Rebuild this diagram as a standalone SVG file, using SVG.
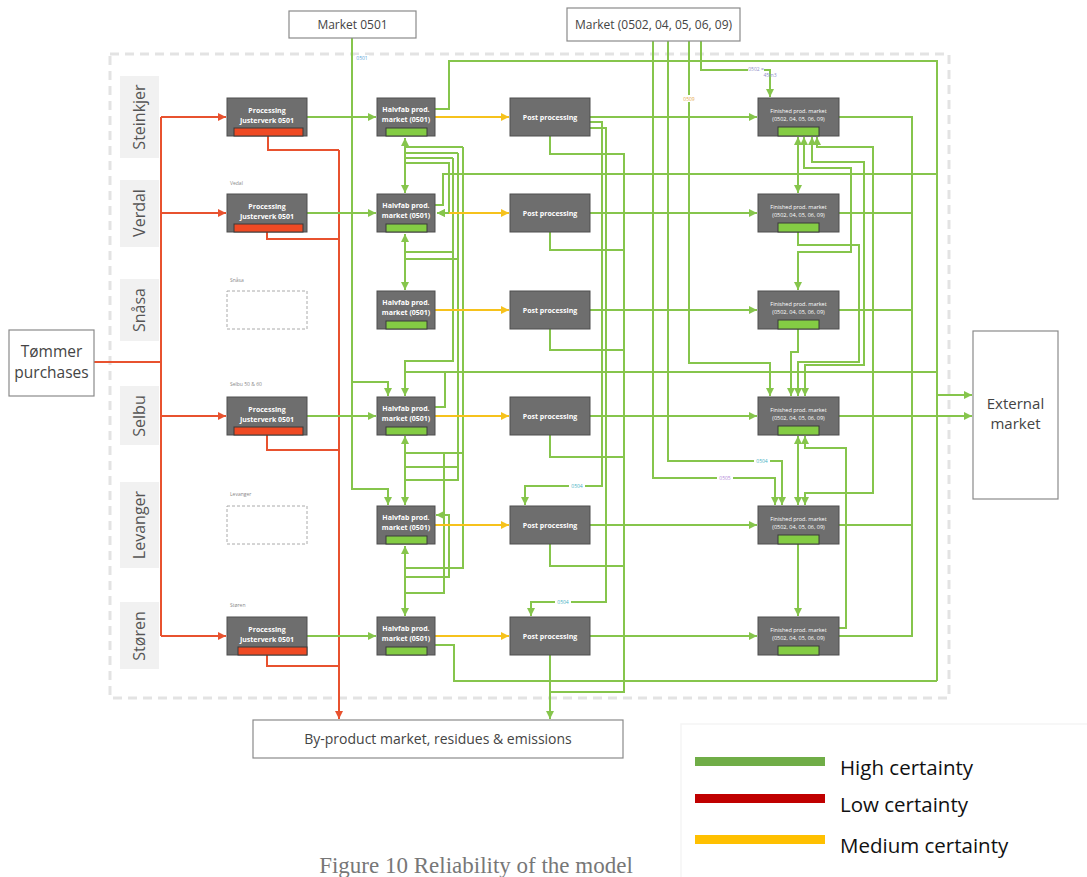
<svg xmlns="http://www.w3.org/2000/svg" width="1087" height="877" viewBox="0 0 1087 877">
<style>
  text{font-family:"Open Sans","DejaVu Sans",sans-serif}
  .frame{fill:none;stroke:#e3e3e3;stroke-width:3;stroke-dasharray:9 6}
  .lane{fill:#f1f1f1}
  .lane-t{font-size:16px;fill:#555;text-anchor:middle}
  .box{fill:#6e6e6e;stroke:#4e4e4e;stroke-width:1}
  .bt{fill:#fff;font-size:7px;font-weight:700;text-anchor:middle}
  .ft{fill:#fff;font-size:5.5px;text-anchor:middle}
  .rbar{fill:#ef4a24;stroke:#3a3a3a;stroke-width:1}
  .gbar{fill:#84cc44;stroke:#3a3a3a;stroke-width:1}
  .ph{fill:none;stroke:#aaa;stroke-width:1;stroke-dasharray:3 2}
  .site{font-size:5px;fill:#888}
  .ext{fill:#fff;stroke:#8a8a8a;stroke-width:1.2}
  .et{fill:#444;text-anchor:middle}
  .g{fill:none;stroke:#86c54c;stroke-width:2}
  .r{fill:none;stroke:#e8522f;stroke-width:2}
  .y{fill:none;stroke:#f6c21c;stroke-width:2}
  .ge{marker-end:url(#ag)}
  .gs{marker-start:url(#ag)}
  .re{marker-end:url(#ar)}
  .ye{marker-end:url(#ay)}
  .lbl{font-size:5px;text-anchor:middle}
  .lb{fill:#fff}
  .leg{font-size:20.5px;fill:#111}
</style>
<defs>
  <marker id="ag" viewBox="0 0 8 8" refX="8" refY="4" markerWidth="8" markerHeight="8" markerUnits="userSpaceOnUse" orient="auto-start-reverse">
    <path d="M0,0 L8,4 L0,8 z" fill="#86c54c"/>
  </marker>
  <marker id="ar" viewBox="0 0 8 8" refX="8" refY="4" markerWidth="8" markerHeight="8" markerUnits="userSpaceOnUse" orient="auto-start-reverse">
    <path d="M0,0 L8,4 L0,8 z" fill="#e8522f"/>
  </marker>
  <marker id="ay" viewBox="0 0 8 8" refX="8" refY="4" markerWidth="8" markerHeight="8" markerUnits="userSpaceOnUse" orient="auto-start-reverse">
    <path d="M0,0 L8,4 L0,8 z" fill="#f6c21c"/>
  </marker>
</defs>

<rect width="1087" height="877" fill="#fff"/>

<!-- model boundary -->
<rect class="frame" x="110" y="54" width="839" height="644"/>

<!-- site lanes -->
<g id="lanes">
  <rect class="lane" x="120" y="76" width="39" height="82"/>
  <text class="lane-t" transform="translate(145,117) rotate(-90)">Steinkjer</text>
  <rect class="lane" x="120" y="180" width="39" height="67"/>
  <text class="lane-t" transform="translate(145,213) rotate(-90)">Verdal</text>
  <rect class="lane" x="120" y="279" width="39" height="62"/>
  <text class="lane-t" transform="translate(145,310) rotate(-90)">Snåsa</text>
  <rect class="lane" x="120" y="386" width="39" height="59"/>
  <text class="lane-t" transform="translate(145,416) rotate(-90)">Selbu</text>
  <rect class="lane" x="120" y="482" width="39" height="86"/>
  <text class="lane-t" transform="translate(145,525) rotate(-90)">Levanger</text>
  <rect class="lane" x="120" y="602" width="39" height="67"/>
  <text class="lane-t" transform="translate(145,636) rotate(-90)">Støren</text>
</g>

<!-- connectors -->
<g id="connectors">
  <!-- timber purchases to sawmills -->
  <path class="r" d="M94,362H161M161,117V636"/>
  <path class="r re" d="M161,117H226"/>
  <path class="r re" d="M161,213H226"/>
  <path class="r re" d="M161,416H226"/>
  <path class="r re" d="M161,636H226"/>
  <!-- sawmill residues -->
  <path class="r" d="M268,136V150H339M267,232V239H339M267,435V450H339M267,655V666H339"/>
  <path class="r re" d="M339,150V719"/>

  <!-- sawmill to halvfab -->
  <path class="g ge" d="M307,117H376"/>
  <path class="g ge" d="M307,213H376"/>
  <path class="g ge" d="M307,416H376"/>
  <path class="g ge" d="M307,636H376"/>

  <!-- market 0501 -->
  <path class="g ge" d="M352,38V489H388V505"/>
  <path class="g ge" d="M352,382H388V396"/>

  <!-- halvfab to external collector -->
  <path class="g" d="M435,109H449V61H937V681"/>
  <path class="g" d="M435,205H443V174H937"/>
  <path class="g" d="M405,372H937M435,407H445V372"/>
  <path class="g" d="M435,645H454V681H937"/>
  <path class="g ge" d="M937,395H972"/>

  <!-- halvfab exchange -->
  <path class="g gs ge" d="M405,138V193"/>
  <path class="g gs ge" d="M405,234V290"/>
  <path class="g gs ge" d="M405,436V505"/>
  <path class="g gs ge" d="M405,546V616"/>
  <path class="g ge" d="M453,158V361H405V396"/>
  <path class="g" d="M463,147H405M458,153H405M453,158H405"/>
  <path class="g" d="M463,147V568H405"/>
  <path class="g" d="M458,153V480H405"/>
  <path class="g ge" d="M405,163H449V213H437"/>
  <path class="g" d="M405,252H453M405,259H458"/>
  <path class="g" d="M405,453H463M405,467H458"/>
  <path class="g" d="M405,593H444V453"/>
  <path class="g ge" d="M405,577H449V515H436"/>

  <!-- halvfab to post processing -->
  <path class="y ye" d="M435,117H509"/>
  <path class="g ge" d="M449,213H437"/>
  <path class="y ye" d="M449,213H509"/>
  <path class="y ye" d="M435,310H509"/>
  <path class="y ye" d="M435,416H509"/>
  <path class="y ye" d="M435,525H509"/>
  <path class="y ye" d="M435,636H509"/>

  <!-- post processing residues -->
  <path class="g" d="M550,136V154H624V692H550M550,232V250H624M550,329V350H624M550,435V457H624M550,544V566H624"/>
  <path class="g ge" d="M550,655V719"/>
  <path class="g ge" d="M590,122H602V486H525V505"/>
  <path class="g ge" d="M590,128H606V602H531V616"/>

  <!-- post processing to finished -->
  <path class="g ge" d="M590,117H757"/>
  <path class="g ge" d="M590,213H757"/>
  <path class="g ge" d="M590,310H757"/>
  <path class="g ge" d="M590,416H757"/>
  <path class="g ge" d="M590,525H757"/>
  <path class="g ge" d="M590,636H757"/>

  <!-- finished market deliveries -->
  <path class="g ge" d="M701,41V70H770V97"/>
  <path class="g ge" d="M689,41V363H770V396"/>
  <path class="g ge" d="M668,41V461H782V505"/>
  <path class="g ge" d="M653,41V478H775V505"/>

  <!-- finished exchange -->
  <path class="g gs ge" d="M798,137V193"/>
  <path class="g gs ge" d="M804,137V168H851V252H798V290"/>
  <path class="g gs ge" d="M812,137V162H864V365H805V396"/>
  <path class="g gs ge" d="M817,137V147H873V493H805V505"/>
  <path class="g ge" d="M798,232V245H859V362H798V396"/>
  <path class="g ge" d="M798,329V352H791V396"/>
  <path class="g gs ge" d="M798,436V505"/>
  <path class="g ge" d="M839,628H846V448H805V436"/>
  <path class="g ge" d="M798,544V616"/>

  <!-- finished to external -->
  <path class="g" d="M839,117H912V636H839M839,213H912M839,310H912M839,525H912"/>
  <path class="g ge" d="M839,416H972"/>

  <!-- flow labels -->
  <rect class="lb" x="355" y="55" width="14" height="6"/>
  <text class="lbl" x="362" y="60" fill="#5aa6d8">0501</text>
  <rect class="lb" x="748" y="65" width="16" height="7"/>
  <text class="lbl" x="756" y="71" fill="#8e8ec8">0502 =</text>
  <text class="lbl" x="770" y="77" fill="#8e8ec8">45m3</text>
  <rect class="lb" x="682" y="95" width="14" height="7"/>
  <text class="lbl" x="689" y="101" fill="#e6a94a">0509</text>
  <rect class="lb" x="754" y="458" width="16" height="7"/>
  <text class="lbl" x="762" y="463" fill="#46b3c4">0504</text>
  <rect class="lb" x="717" y="475" width="16" height="7"/>
  <text class="lbl" x="725" y="480" fill="#b48ad8">0505</text>
  <rect class="lb" x="569" y="483" width="16" height="7"/>
  <text class="lbl" x="577" y="488" fill="#46b3c4">0504</text>
  <rect class="lb" x="555" y="599" width="16" height="7"/>
  <text class="lbl" x="563" y="604" fill="#46b3c4">0504</text>
</g>

<!-- external boxes -->
<g id="tommer">
  <rect class="ext" x="9" y="330" width="85" height="66"/>
  <text class="et" x="51.5" y="357" font-size="15.5">Tømmer</text>
  <text class="et" x="51.5" y="378" font-size="15.5">purchases</text>
</g>
<g id="market-0501">
  <rect class="ext" x="289" y="11" width="127" height="27"/>
  <text class="et" x="352.5" y="29" font-size="12">Market 0501</text>
</g>
<g id="market-0502">
  <rect class="ext" x="567" y="8" width="173" height="33"/>
  <text class="et" x="653.5" y="29" font-size="12">Market (0502, 04, 05, 06, 09)</text>
</g>
<g id="external-market">
  <rect class="ext" x="973" y="331" width="85" height="168"/>
  <text class="et" x="1015.5" y="409" font-size="15">External</text>
  <text class="et" x="1015.5" y="429" font-size="15">market</text>
</g>
<g id="byproduct">
  <rect class="ext" x="253" y="720" width="370" height="38"/>
  <text class="et" x="438" y="744" font-size="14">By-product market, residues &amp; emissions</text>
</g>

<!-- sawmills -->
<g id="proc-steinkjer">
  <rect class="box" x="227" y="98" width="80" height="38"/>
  <rect class="rbar" x="234" y="128" width="69" height="8"/>
  <text class="bt" x="267" y="113">Processing</text>
  <text class="bt" x="267" y="123">Justerverk 0501</text>
</g>
<g id="proc-verdal">
  <text class="site" x="230" y="185">Vedal</text>
  <rect class="box" x="227" y="194" width="80" height="38"/>
  <rect class="rbar" x="234" y="224" width="69" height="8"/>
  <text class="bt" x="267" y="209">Processing</text>
  <text class="bt" x="267" y="219">Justerverk 0501</text>
</g>
<g id="proc-snasa">
  <text class="site" x="230" y="282">Snåsa</text>
  <rect class="ph" x="227" y="291" width="80" height="38"/>
</g>
<g id="proc-selbu">
  <text class="site" x="230" y="386">Selbu 50 &amp; 60</text>
  <rect class="box" x="227" y="397" width="80" height="38"/>
  <rect class="rbar" x="234" y="427" width="69" height="8"/>
  <text class="bt" x="267" y="412">Processing</text>
  <text class="bt" x="267" y="422">Justerverk 0501</text>
</g>
<g id="proc-levanger">
  <text class="site" x="230" y="496">Levanger</text>
  <rect class="ph" x="227" y="506" width="80" height="38"/>
</g>
<g id="proc-storen">
  <text class="site" x="230" y="607">Støren</text>
  <rect class="box" x="227" y="617" width="80" height="38"/>
  <rect class="rbar" x="238" y="647" width="69" height="8"/>
  <text class="bt" x="267" y="632">Processing</text>
  <text class="bt" x="267" y="642">Justerverk 0501</text>
</g>

<!-- halvfab markets -->
<g id="hf-steinkjer"><rect class="box" x="377" y="98" width="58" height="38"/><rect class="gbar" x="386" y="128" width="41" height="8"/><text class="bt" x="406" y="112">Halvfab prod.</text><text class="bt" x="406" y="122">market (0501)</text></g>
<g id="hf-verdal"><rect class="box" x="377" y="194" width="58" height="38"/><rect class="gbar" x="386" y="224" width="41" height="8"/><text class="bt" x="406" y="208">Halvfab prod.</text><text class="bt" x="406" y="218">market (0501)</text></g>
<g id="hf-snasa"><rect class="box" x="377" y="291" width="58" height="38"/><rect class="gbar" x="386" y="321" width="41" height="8"/><text class="bt" x="406" y="305">Halvfab prod.</text><text class="bt" x="406" y="315">market (0501)</text></g>
<g id="hf-selbu"><rect class="box" x="377" y="397" width="58" height="38"/><rect class="gbar" x="386" y="427" width="41" height="8"/><text class="bt" x="406" y="411">Halvfab prod.</text><text class="bt" x="406" y="421">market (0501)</text></g>
<g id="hf-levanger"><rect class="box" x="377" y="506" width="58" height="38"/><rect class="gbar" x="386" y="536" width="41" height="8"/><text class="bt" x="406" y="520">Halvfab prod.</text><text class="bt" x="406" y="530">market (0501)</text></g>
<g id="hf-storen"><rect class="box" x="377" y="617" width="58" height="38"/><rect class="gbar" x="386" y="647" width="41" height="8"/><text class="bt" x="406" y="631">Halvfab prod.</text><text class="bt" x="406" y="641">market (0501)</text></g>

<!-- post processing -->
<g id="pp-steinkjer"><rect class="box" x="510" y="98" width="80" height="38"/><text class="bt" x="550" y="119.5">Post processing</text></g>
<g id="pp-verdal"><rect class="box" x="510" y="194" width="80" height="38"/><text class="bt" x="550" y="215.5">Post processing</text></g>
<g id="pp-snasa"><rect class="box" x="510" y="291" width="80" height="38"/><text class="bt" x="550" y="312.5">Post processing</text></g>
<g id="pp-selbu"><rect class="box" x="510" y="397" width="80" height="38"/><text class="bt" x="550" y="418.5">Post processing</text></g>
<g id="pp-levanger"><rect class="box" x="510" y="506" width="80" height="38"/><text class="bt" x="550" y="527.5">Post processing</text></g>
<g id="pp-storen"><rect class="box" x="510" y="617" width="80" height="38"/><text class="bt" x="550" y="638.5">Post processing</text></g>

<!-- finished product markets -->
<g id="fp-steinkjer"><rect class="box" x="758" y="98" width="81" height="38"/><rect class="gbar" x="778" y="127" width="41" height="9"/><text class="ft" x="798.5" y="113">Finished prod. market</text><text class="ft" x="798.5" y="121">(0502, 04, 05, 06, 09)</text></g>
<g id="fp-verdal"><rect class="box" x="758" y="194" width="81" height="38"/><rect class="gbar" x="778" y="223" width="41" height="9"/><text class="ft" x="798.5" y="209">Finished prod. market</text><text class="ft" x="798.5" y="217">(0502, 04, 05, 06, 09)</text></g>
<g id="fp-snasa"><rect class="box" x="758" y="291" width="81" height="38"/><rect class="gbar" x="778" y="320" width="41" height="9"/><text class="ft" x="798.5" y="306">Finished prod. market</text><text class="ft" x="798.5" y="314">(0502, 04, 05, 06, 09)</text></g>
<g id="fp-selbu"><rect class="box" x="758" y="397" width="81" height="38"/><rect class="gbar" x="778" y="426" width="41" height="9"/><text class="ft" x="798.5" y="412">Finished prod. market</text><text class="ft" x="798.5" y="420">(0502, 04, 05, 06, 09)</text></g>
<g id="fp-levanger"><rect class="box" x="758" y="506" width="81" height="38"/><rect class="gbar" x="778" y="535" width="41" height="9"/><text class="ft" x="798.5" y="521">Finished prod. market</text><text class="ft" x="798.5" y="529">(0502, 04, 05, 06, 09)</text></g>
<g id="fp-storen"><rect class="box" x="758" y="617" width="81" height="38"/><rect class="gbar" x="778" y="646" width="41" height="9"/><text class="ft" x="798.5" y="632">Finished prod. market</text><text class="ft" x="798.5" y="640">(0502, 04, 05, 06, 09)</text></g>

<!-- legend -->
<g id="legend">
  <path d="M681,877V724H1087" fill="none" stroke="#f5f5f5" stroke-width="1.5"/>
  <rect x="695" y="757" width="130" height="9" fill="#70ad47"/>
  <text class="leg" x="840" y="775">High certainty</text>
  <rect x="695" y="794" width="130" height="9" fill="#c00000"/>
  <text class="leg" x="840" y="812">Low certainty</text>
  <rect x="695" y="835" width="130" height="9" fill="#ffc000"/>
  <text class="leg" x="840" y="853">Medium certainty</text>
</g>

<text x="476" y="873" font-size="23" fill="#777" text-anchor="middle" style="font-family:'Liberation Serif',serif">Figure 10 Reliability of the model</text>
</svg>
